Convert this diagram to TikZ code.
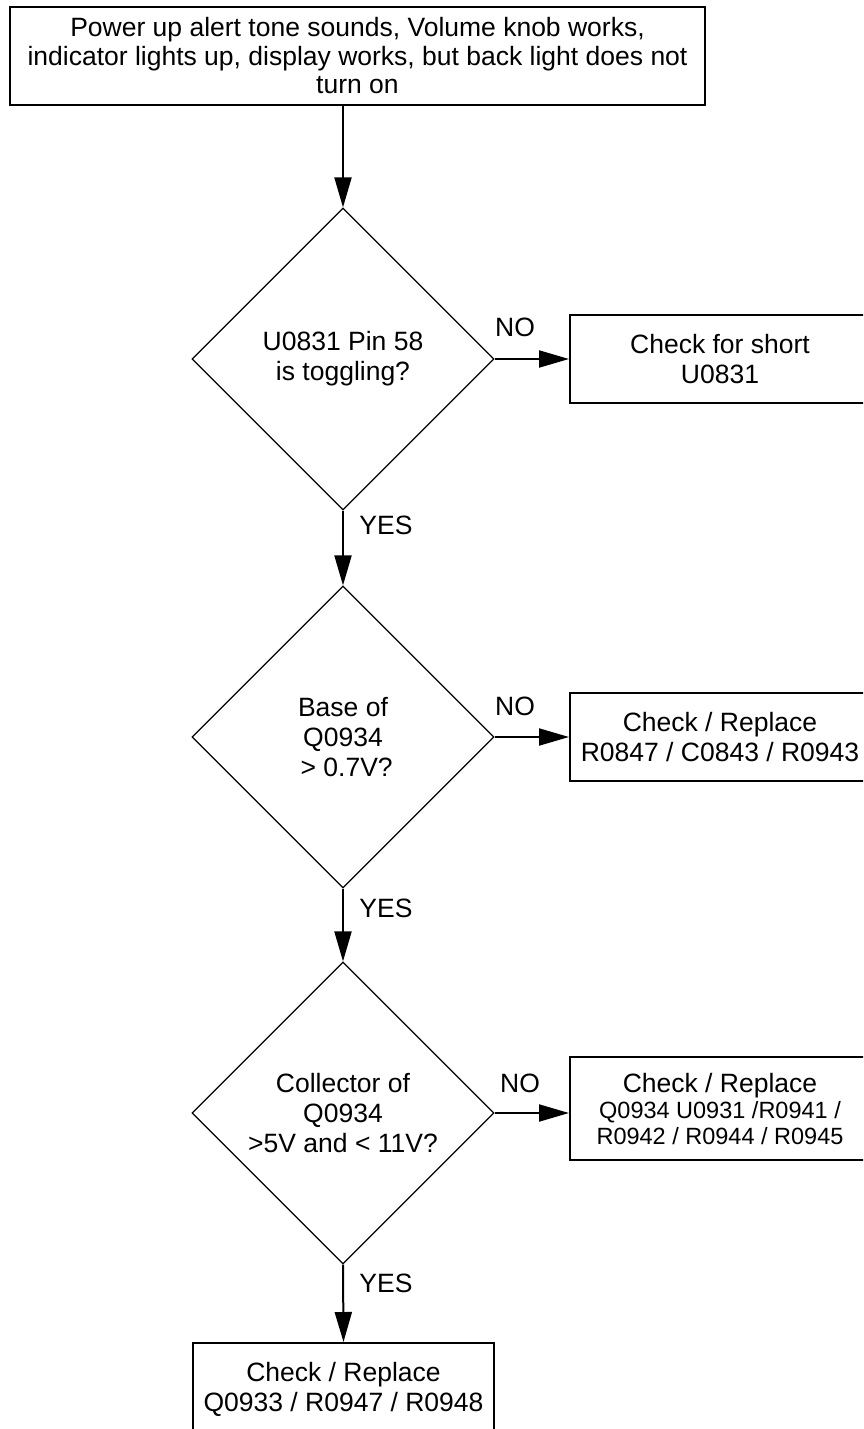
\documentclass[tikz,border=0pt]{standalone}
\usepackage{fontspec}
\setmainfont{Liberation Sans}
\usetikzlibrary{shapes.geometric,arrows.meta}
\begin{document}
\begin{tikzpicture}[x=1pt,y=-1pt,
  every node/.style={font=\fontsize{26.5}{30}\selectfont},
  box/.style={draw, line width=2pt, align=center, inner sep=0pt},
  dec/.style={diamond, draw, line width=1.2pt, aspect=1, minimum width=302pt, minimum height=302pt, inner sep=0pt, align=center},
  conn/.style={line width=2pt, -{Triangle[length=30pt,width=17pt]}},
  lbl/.style={inner sep=0pt}
]
\useasboundingbox (0,0) rectangle (863,1429);
\clip (0,0) rectangle (863,1429);

\node[box, minimum width=695pt, minimum height=98pt, font=\fontsize{26.5}{28.5}\selectfont] (top) at (357.5,56)
  {Power up alert tone sounds, Volume knob works,\\indicator lights up, display works, but back light does not\\turn on};

\node[dec] (d1) at (343,359) {U0831 Pin 58\\is toggling?};
\node[dec] (d2) at (343,737) {Base of\\Q0934\\ \ > 0.7V?};
\node[dec] (d3) at (343,1113) {Collector of\\Q0934\\>5V and < 11V?};

\node[box, minimum width=300pt, minimum height=88pt] (b1) at (720,359) {Check for short\\U0831};
\node[box, minimum width=300pt, minimum height=88pt] (b2) at (720,737) {Check / Replace\\R0847 / C0843 / R0943};
\node[box, minimum width=300pt, minimum height=103pt, font=\fontsize{23.5}{26}\selectfont] (b3) at (720,1108.5)
  {{\fontsize{26.5}{26}\selectfont Check / Replace}\\Q0934 U0931 /R0941 /\\R0942 / R0944 / R0945};
\node[box, minimum width=301pt, minimum height=92pt] (b4) at (343.5,1389) {Check / Replace\\Q0933 / R0947 / R0948};

\draw[conn] (top.south -| d1.north) -- (d1.north);
\draw[conn] (d1.south) -- (d2.north);
\draw[conn] (d2.south) -- (d3.north);
\draw[conn] (d3.south) -- (b4.north);
\draw[conn] (d1.east) -- (d1.east -| b1.west);
\draw[conn] (d2.east) -- (d2.east -| b2.west);
\draw[conn] (d3.east) -- (d3.east -| b3.west);

\node[lbl] (no1) at (515,327) {NO};
\node[lbl] (no2) at (515,706) {NO};
\node[lbl] (no3) at (520,1083) {NO};
\node[lbl] (yes1) at (386,525) {YES};
\node[lbl] (yes2) at (386,908) {YES};
\node[lbl] (yes3) at (386,1283) {YES};
\end{tikzpicture}
\end{document}
